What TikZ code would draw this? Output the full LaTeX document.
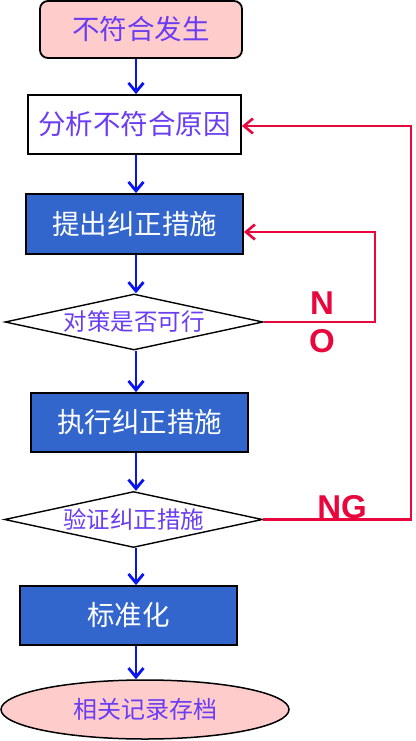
\documentclass[tikz,border=0pt]{standalone}
\usepackage{fontspec}
\usepackage{xcolor}
\usepackage{tikz}
\usetikzlibrary{shapes,arrows.meta,positioning,calc}
\newfontfamily\cjk{Noto Sans CJK SC}
\setsansfont{Liberation Sans}
\definecolor{boxpink}{HTML}{FFCCCC}
\definecolor{boxblue}{HTML}{3366CC}
\definecolor{txtpurple}{HTML}{6A3CF2}
\definecolor{flowblue}{HTML}{0A14F0}
\definecolor{backred}{HTML}{E8063C}
\tikzset{
  pinkbox/.style={draw=black,line width=1.8pt,fill=boxpink,rounded corners=8pt,inner sep=0pt,
    text=txtpurple,font=\cjk\fontsize{27.5}{27.5}\selectfont},
  whitebox/.style={draw=black,line width=1.8pt,fill=white,inner sep=0pt,
    text=txtpurple,font=\cjk\fontsize{27.5}{27.5}\selectfont},
  bluebox/.style={draw=black,line width=1.8pt,fill=boxblue,inner sep=0pt,
    text=white,font=\cjk\fontsize{27.5}{27.5}\selectfont},
  decide/.style={diamond,aspect=4.6,draw=black,line width=1.4pt,fill=white,inner sep=0pt,
    minimum width=258pt,minimum height=56pt,text=txtpurple,font=\cjk\fontsize{23.5}{23.5}\selectfont},
  record/.style={ellipse,draw=black,line width=1.5pt,fill=boxpink,inner sep=0pt,
    minimum width=288pt,minimum height=59pt,text=txtpurple,font=\cjk\fontsize{24}{24}\selectfont},
  flow/.style={draw=flowblue,line width=2.8pt,-{Straight Barb[length=9pt,width=15pt,line width=2.8pt]}},
  backline/.style={draw=backred,line width=2.6pt,-{Straight Barb[length=9pt,width=15pt,line width=2.6pt]}},
  backlabel/.style={text=backred,font=\sffamily\bfseries\fontsize{33}{33}\selectfont,inner sep=0pt}
}
\begin{document}
\begin{tikzpicture}[x=1pt,y=-1pt]
        \useasboundingbox (0,0) rectangle (415,741);
        % Boxes
        \node[pinkbox,minimum width=202pt,minimum height=57pt] (start) at (141,29.5) {不符合发生};
        \node[whitebox,minimum width=213pt,minimum height=59pt] (analyse) at (134.5,124.5) {分析不符合原因};
        \node[bluebox,minimum width=217pt,minimum height=60pt] (propose) at (134.5,224) {提出纠正措施};
        \node[decide] (feasible) at (134,322) {对策是否可行};
        \node[bluebox,minimum width=217pt,minimum height=59pt] (execute) at (139.5,422.5) {执行纠正措施};
        \node[decide] (verify) at (133.5,519.5) {验证纠正措施};
        \node[bluebox,minimum width=217pt,minimum height=59pt] (standard) at (128.5,615.5) {标准化};
        \node[record] (archive) at (145,709.5) {相关记录存档};

        % Main flow
        \coordinate (spine) at (136,0);
        \draw[flow] (start.south -| spine) -- (analyse.north -| spine);
        \draw[flow] (analyse.south -| spine) -- (propose.north -| spine);
        \draw[flow] (propose.south -| spine) -- (feasible.north -| spine);
        \draw[flow] (feasible.south -| spine) -- (execute.north -| spine);
        \draw[flow] (execute.south -| spine) -- (verify.north -| spine);
        \draw[flow] (verify.south -| spine) -- (standard.north -| spine);
        \draw[flow] (standard.south -| spine) -- (archive.north -| spine);

        % Loops back
        \coordinate (noturn) at (375,232);
        \draw[backline] (feasible.east) -| (noturn) -- (noturn -| propose.east);
        \coordinate (ngturn) at (411,126);
        \draw[backline] (verify.east) -| (ngturn) -- (ngturn -| analyse.east);
        \node[backlabel] (nolabelN) at (322,303) {N};
        \node[backlabel] (nolabelO) at (322,341) {O};
        \node[backlabel] (nglabel) at (342,507) {NG};
    \end{tikzpicture}
\end{document}
